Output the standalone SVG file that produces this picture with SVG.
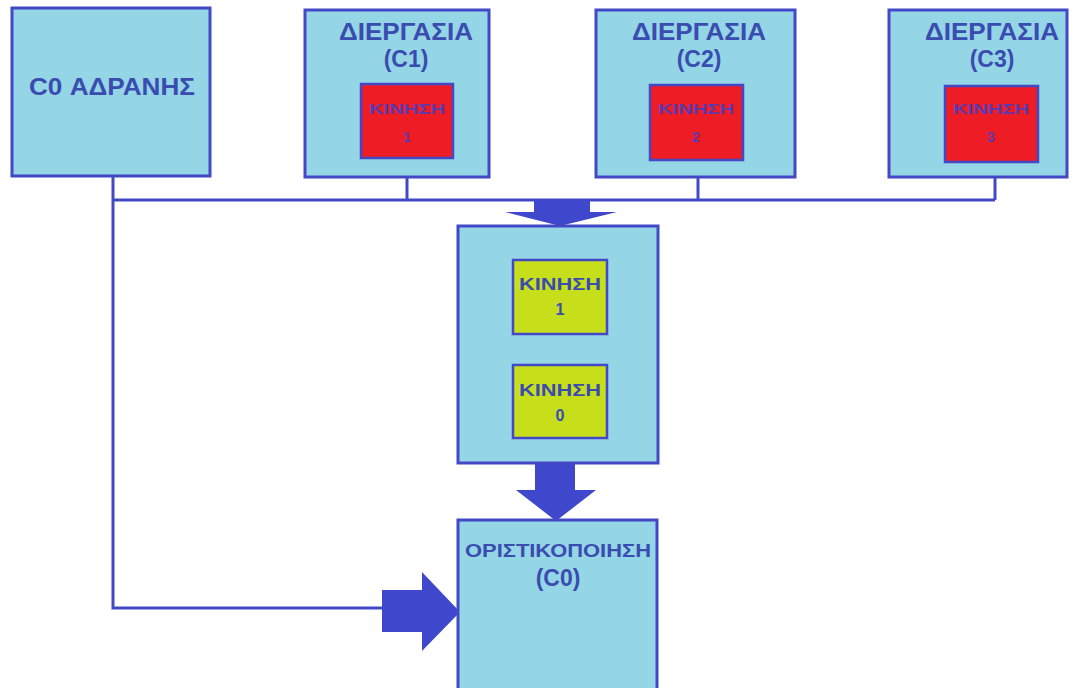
<svg xmlns="http://www.w3.org/2000/svg" width="1079" height="688" viewBox="0 0 1079 688">
<style>
.box{fill:#94d5e6;stroke:#4349c6;stroke-width:3}
.red{fill:#ee1c24;stroke:#4349c6;stroke-width:2.5}
.green{fill:#c6df1a;stroke:#4349c6;stroke-width:2.5}
.t{font-family:"Liberation Sans",Arial,sans-serif;font-weight:bold;fill:#3a4cb0;text-anchor:middle}
.big{font-size:23px}
.sm{font-size:16px}
.rt{font-family:"Liberation Sans",Arial,sans-serif;font-weight:bold;fill:#5a3ab0;text-anchor:middle;font-size:14px}
.ln{fill:none;stroke:#4349c6;stroke-width:3}
.ar{fill:#3f48cc}
</style>
<rect width="1079" height="688" fill="#ffffff"/>
<g id="connectors">
<path class="ln" d="M113 176 V608 H384"/>
<path class="ln" d="M113 200 H995"/>
<path class="ln" d="M407 177 V200"/>
<path class="ln" d="M698 177 V200"/>
<path class="ln" d="M995 177 V200"/>
<polygon class="ar" points="534,200 590,200 590,212 617,212 560,226 505,212 534,212"/>
<polygon class="ar" points="535,463 575,463 575,490 596,490 556,521 516,490 535,490"/>
<polygon class="ar" points="382,590 422,590 422,572 460,612 422,651 422,632 382,632"/>
</g>
<g id="idle">
<rect class="box" x="12" y="8" width="198" height="168"/>
<text class="t big" x="112" y="95" textLength="166" lengthAdjust="spacingAndGlyphs">C0 ΑΔΡΑΝΗΣ</text>
</g>
<g id="c1">
<rect class="box" x="305" y="10" width="184" height="167"/>
<text class="t big" x="406" y="40" textLength="134" lengthAdjust="spacingAndGlyphs">ΔΙΕΡΓΑΣΙΑ</text>
<text class="t big" x="406" y="67">(C1)</text>
<rect class="red" x="361" y="84" width="92" height="74"/>
<text class="rt" x="407" y="114" textLength="76" lengthAdjust="spacingAndGlyphs">ΚΙΝΗΣΗ</text>
<text class="rt" x="407" y="142">1</text>
</g>
<g id="c2">
<rect class="box" x="596" y="10" width="199" height="167"/>
<text class="t big" x="699" y="40" textLength="134" lengthAdjust="spacingAndGlyphs">ΔΙΕΡΓΑΣΙΑ</text>
<text class="t big" x="699" y="67">(C2)</text>
<rect class="red" x="650" y="85" width="93" height="75"/>
<text class="rt" x="696" y="114" textLength="76" lengthAdjust="spacingAndGlyphs">ΚΙΝΗΣΗ</text>
<text class="rt" x="696" y="142">2</text>
</g>
<g id="c3">
<rect class="box" x="889" y="10" width="178" height="167"/>
<text class="t big" x="992" y="40" textLength="134" lengthAdjust="spacingAndGlyphs">ΔΙΕΡΓΑΣΙΑ</text>
<text class="t big" x="992" y="67">(C3)</text>
<rect class="red" x="945" y="86" width="93" height="76"/>
<text class="rt" x="991" y="114" textLength="76" lengthAdjust="spacingAndGlyphs">ΚΙΝΗΣΗ</text>
<text class="rt" x="991" y="142">3</text>
</g>
<g id="moves">
<rect class="box" x="458" y="226" width="200" height="237"/>
<rect class="green" x="513" y="260" width="94" height="74"/>
<text class="t sm" x="560" y="290" textLength="82" lengthAdjust="spacingAndGlyphs">ΚΙΝΗΣΗ</text>
<text class="t sm" x="560" y="315">1</text>
<rect class="green" x="513" y="365" width="94" height="73"/>
<text class="t sm" x="560" y="396" textLength="82" lengthAdjust="spacingAndGlyphs">ΚΙΝΗΣΗ</text>
<text class="t sm" x="560" y="421">0</text>
</g>
<g id="final">
<rect class="box" x="458" y="520" width="199" height="180"/>
<text class="t" style="font-size:19px" x="558" y="557" textLength="186" lengthAdjust="spacingAndGlyphs">ΟΡΙΣΤΙΚΟΠΟΙΗΣΗ</text>
<text class="t big" x="558" y="586">(C0)</text>
</g>
</svg>
